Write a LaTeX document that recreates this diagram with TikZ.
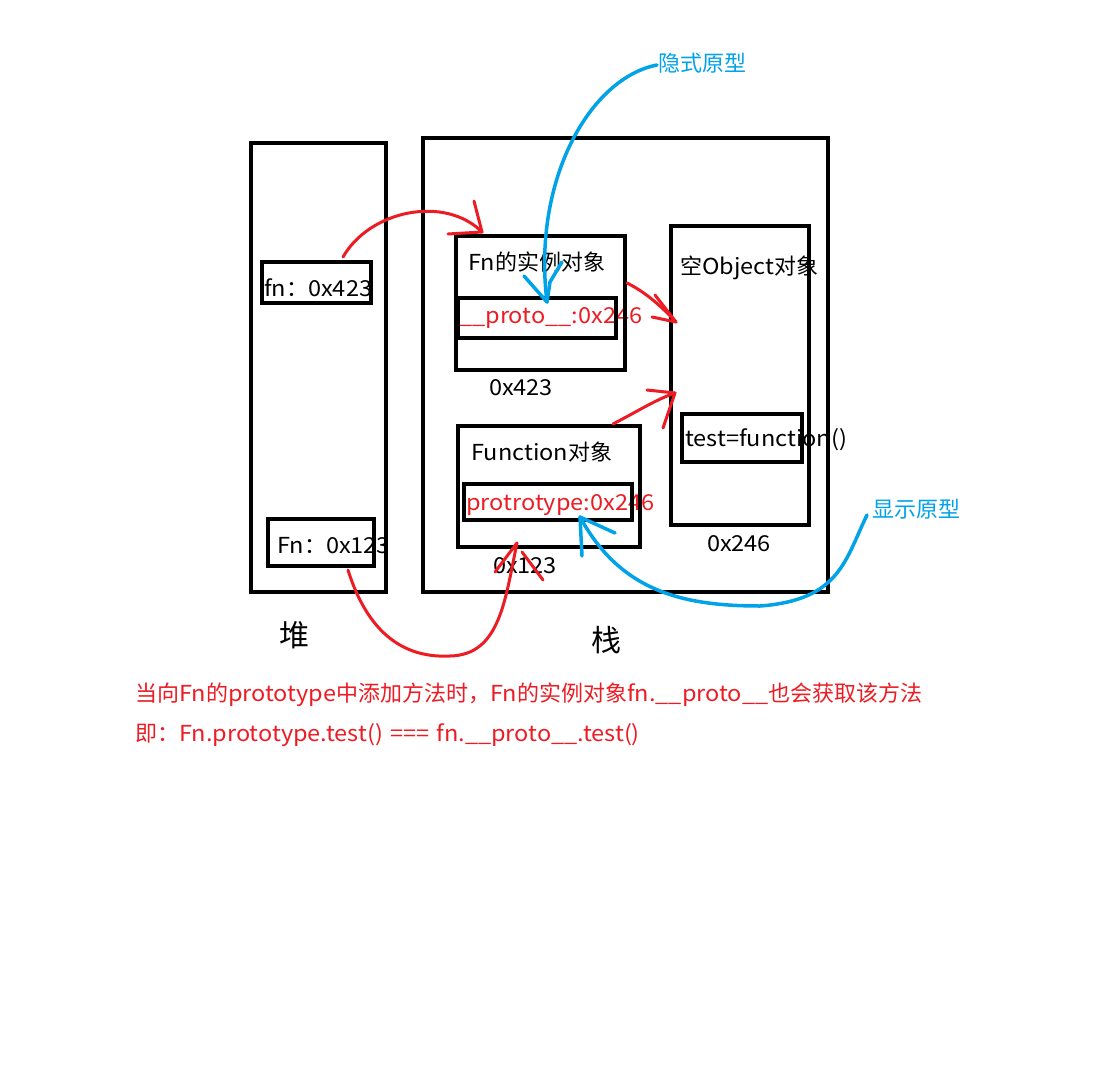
\documentclass[tikz,border=0pt]{standalone}
\usepackage{fontspec}
\setmainfont{Noto Sans CJK SC}[FakeStretch=1.07]
\newfontfamily\cjkfont{Noto Sans CJK SC}
\newcommand\zh[1]{{\cjkfont #1}}
\newcommand\wsp{\hspace{0.32em}}
\definecolor{penred}{RGB}{237,28,36}
\definecolor{penblue}{RGB}{0,162,232}
\begin{document}
\begin{tikzpicture}[x=1pt,y=-1pt,
  box/.style={draw=black,line width=4.5pt,inner sep=0pt,outer sep=0pt},
  txt/.style={font=\fontsize{22}{26}\selectfont,inner sep=0pt,anchor=west},
  ctxt/.style={font=\fontsize{22}{26}\selectfont,inner sep=0pt},
  redtxt/.style={txt,text=penred},
  bluetxt/.style={txt,text=penblue,font=\fontsize{22}{26}\selectfont\cjkfont},
  bigtxt/.style={font=\fontsize{30}{34}\selectfont\cjkfont,inner sep=0pt},
  redpen/.style={draw=penred,line width=3pt,line cap=round,line join=round},
  bluepen/.style={draw=penblue,line width=3.5pt,line cap=round,line join=round}]
\fill[white] (0,0) rectangle (1104,1076);
\useasboundingbox (0,0) rectangle (1104,1076);

% texts
\node[txt] (tfn) at (264,288) {fn\zh{：}0x423};
\node[txt] (tFn) at (277,546) {Fn\zh{：}0x123};
\node[txt] (tinst) at (468,262) {Fn\zh{的实例对象}};
\node[redtxt] (tproto) at (459,318) {\_\_proto\_\_:0x246};
\node[ctxt] (a423) at (521,388) {0x423};
\node[txt] (tfunc) at (471,452) {Function\zh{对象}};
\node[redtxt] (tpt) at (466,505) {protrotype:0x246};
\node[ctxt] (a123) at (525,566) {0x123};
\node[txt] (tobj) at (680,268) {\zh{空}Object\zh{对象}};
\node[txt] (ttest) at (685,440) {test=function()};
\node[ctxt] (a246) at (739,544) {0x246};
\node[bluetxt] (limp) at (658,63) {隐式原型};
\node[bluetxt] (lexp) at (872,509) {显示原型};
\node[bigtxt] (lheap) at (294,635) {堆};
\node[bigtxt] (lstack) at (606,640) {栈};
\node[redtxt] (note1) at (135,695) {\zh{当向}Fn\zh{的}prototype\zh{中添加方法时，}Fn\zh{的实例对象}fn.\_\_proto\_\_\zh{也会获取该方法}};
\node[redtxt] (note2) at (135,735) {\zh{即：}Fn.prototype.test()\wsp===\wsp fn.\_\_proto\_\_.test()};

% boxes
\node[box,minimum width=135,minimum height=449] (heap) at (318.5,367.5) {};
\node[box,minimum width=405,minimum height=454] (stack) at (625.5,365) {};
\node[box,line width=4pt,minimum width=109,minimum height=41] (fnbox) at (316.5,282.5) {};
\node[box,line width=4pt,minimum width=106,minimum height=47] (Fnbox) at (321,542.5) {};
\node[box,line width=4pt,minimum width=169,minimum height=134] (inst) at (540.5,303) {};
\node[box,line width=4pt,minimum width=158,minimum height=40] (protobox) at (537,318) {};
\node[box,line width=4pt,minimum width=182,minimum height=121] (func) at (549,486.5) {};
\node[box,line width=4pt,minimum width=168,minimum height=36] (ptbox) at (548,502) {};
\node[box,line width=4pt,minimum width=138,minimum height=299] (obj) at (740,375.5) {};
\node[box,line width=4pt,minimum width=120,minimum height=48] (testbox) at (742,438) {};

% connector end points
\coordinate (s1) at (343,257);
\coordinate (t1) at (482,232);
\coordinate (s2) at (627,283);
\coordinate (t2) at (676,322);
\coordinate (s3) at (613,424);
\coordinate (t3) at (675,393);
\coordinate (s4) at (348,570);
\coordinate (m4) at (450,656);
\coordinate (t4) at (517,543);
\coordinate (s5) at (657,65);
\coordinate (t5) at (547,302);
\coordinate (s6) at (867,515);
\coordinate (m6) at (760,606);
\coordinate (t6) at (580,517);

% red arrows
\draw[redpen] (s1) .. controls (370,210) and (445,195) .. (t1);
\draw[redpen] (t1) ++(-8,-31) -- (t1) -- ++(-34,2);
\draw[redpen] (s2) .. controls (645,292) and (660,305) .. (t2);
\draw[redpen] (t2) ++(-21,-27) -- (t2) -- ++(-24,-5);
\draw[redpen] (s3) .. controls (640,410) and (655,400) .. (t3);
\draw[redpen] (t3) ++(-28,-3) -- (t3) -- ++(-12,35);
\draw[redpen] (s4) .. controls (370,640) and (410,658) .. (m4)
   .. controls (500,655) and (505,600) .. (t4);
\draw[redpen] (t4) ++(-22,29) -- (t4);
\draw[redpen] (t4) ++(5,9) -- ++(21,28);

% blue arrows
\draw[bluepen] (s5) .. controls (590,78) and (532,180) .. (t5);
\draw[bluepen] (t5) ++(-23,-26) -- (t5) -- ++(3,-20) -- ++(12,-20);
\draw[bluepen] (s6) .. controls (845,560) and (840,600) .. (m6)
   .. controls (680,606) and (620,590) .. (t6);
\draw[bluepen] (t6) ++(35,16) -- (t6) -- ++(2,39);
\end{tikzpicture}
\end{document}
